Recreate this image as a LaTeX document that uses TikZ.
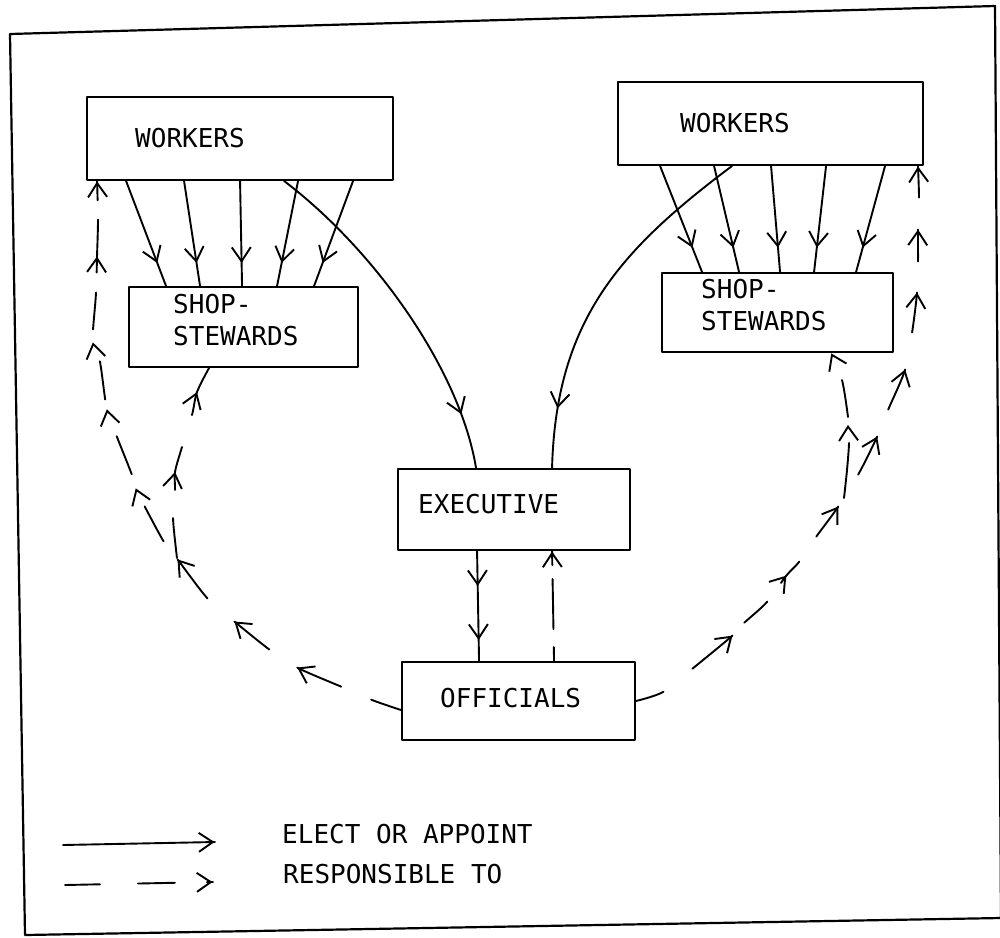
\documentclass[tikz,border=0pt]{standalone}
\usepackage{fontspec}
\newfontfamily\plotfont{DejaVu Sans Mono}
\usetikzlibrary{arrows.meta,decorations.markings}
\tikzset{
  barb/.tip={Straight Barb[length=14pt,width=19pt]},
  ln/.style={line width=1.9pt, line cap=round, line join=round},
  box/.style={draw, ln, rectangle, inner sep=0pt},
  txt/.style={font=\plotfont\fontsize{26}{32}\selectfont, inner sep=0pt, anchor=base west},
  hd/.style={postaction={solid, decorate, decoration={markings, mark=at position #1 with {\arrow{barb}}}}},
  elect/.style={ln},
  resp/.style={ln},
}
\begin{document}
\begin{tikzpicture}[x=1pt, y=-1pt]
\useasboundingbox (0,0) rectangle (1000,937);
% frame
\draw[line width=2.2pt, line join=round] (10,34) -- (995,6) -- (1001,918) -- (25,935) -- cycle;

% boxes
\node[box, minimum width=306pt, minimum height=83pt] (lw) at (240,138.5) {};
\node[box, minimum width=305pt, minimum height=83pt] (rw) at (770.5,123.5) {};
\node[box, minimum width=229pt, minimum height=80pt] (ls) at (243.5,327) {};
\node[box, minimum width=231pt, minimum height=79pt] (rs) at (777.5,312.5) {};
\node[box, minimum width=232pt, minimum height=81pt] (ex) at (514,509.5) {};
\node[box, minimum width=233pt, minimum height=78pt] (of) at (518.5,701) {};

% texts
\node[txt] (lwt) at (135,147) {WORKERS};
\node[txt] (rwt) at (680,132) {WORKERS};
\node[txt] (lst1) at (173,313) {SHOP-};
\node[txt] (lst2) at (173,345) {STEWARDS};
\node[txt] (rst1) at (701,298) {SHOP-};
\node[txt] (rst2) at (701,330) {STEWARDS};
\node[txt] (ext) at (418,513) {EXECUTIVE};
\node[txt] (oft) at (440,707) {OFFICIALS};
\node[txt] (lg1) at (282,843) {ELECT OR APPOINT};
\node[txt] (lg2) at (283,883) {RESPONSIBLE TO};

% elect: left workers -> shop stewards
\draw[elect, hd=0.78] ([xshift=40pt]lw.south west) -- ([xshift=38pt]ls.north west);
\draw[elect, hd=0.78] ([xshift=98pt]lw.south west) -- ([xshift=72pt]ls.north west);
\draw[elect, hd=0.78] ([xshift=154pt]lw.south west) -- ([xshift=114pt]ls.north west);
\draw[elect, hd=0.78] ([xshift=212pt]lw.south west) -- ([xshift=149pt]ls.north west);
\draw[elect, hd=0.78] ([xshift=267pt]lw.south west) -- ([xshift=186pt]ls.north west);
% elect: right workers -> shop stewards
\draw[elect, hd=0.77] ([xshift=43pt]rw.south west) -- ([xshift=41pt]rs.north west);
\draw[elect, hd=0.77] ([xshift=97pt]rw.south west) -- ([xshift=78pt]rs.north west);
\draw[elect, hd=0.77] ([xshift=154pt]rw.south west) -- ([xshift=119pt]rs.north west);
\draw[elect, hd=0.77] ([xshift=209pt]rw.south west) -- ([xshift=153pt]rs.north west);
\draw[elect, hd=0.77] ([xshift=268pt]rw.south west) -- ([xshift=195pt]rs.north west);
% elect: workers -> executive
\draw[elect, hd=-56pt] ([xshift=198pt]lw.south west) .. controls (375,250) and (460,370) .. ([xshift=79pt]ex.north west);
\draw[elect, hd=-60pt] ([xshift=115pt]rw.south west) .. controls (620,250) and (556,320) .. ([xshift=155pt]ex.north west);
% elect: executive -> officials
\draw[elect, hd/.list={35pt,89pt}] ([xshift=80pt]ex.south west) -- ([xshift=78pt]of.north west);

% responsible: officials -> executive
\draw[resp, dash pattern=on 14pt off 18pt on 50pt off 14pt on 30pt, hd=-0.5pt] ([xshift=153pt]of.north west) -- ([xshift=155pt]ex.south west);

% responsible: officials -> left workers (outer)
\draw[resp, dash pattern=on 31.6pt off 32.7pt on 47.9pt off 33.3pt on 44.8pt off 35.5pt on 49.2pt off 22.8pt on 39.8pt off 34.7pt on 40.9pt off 38.8pt on 38.5pt off 33.2pt on 37.1pt off 20pt on 53pt off 19.2pt on 40pt,
  hd/.list={112.2pt,190.3pt,275pt,357.7pt,442pt,510.7pt,596.8pt,-0.5pt}]
  plot[smooth, tension=0.5] coordinates {([yshift=-9pt]of.west) (372,700) (342,687) (298,668) (270,650) (235,622) (208,599) (178,560) (164,542) (145,507) (136,489) (132,475) (117,437) (107,410) (100,362) (93,343) (93,330) (96,293) (97,257) (98,220) ([xshift=11pt]lw.south west)};
% responsible: branch to left shop stewards
\coordinate (lj) at (177,558);
\draw[resp, dash pattern=on 40.2pt off 28.1pt on 44pt off 33.5pt on 80pt, hd/.list={86.3pt,169.3pt}]
  plot[smooth, tension=0.5] coordinates {(lj) (173,518) (175,490) (175,472) (182,447) (192,415) (197,392) ([xshift=81pt]ls.south west)};

% responsible: officials -> right workers (outer)
\draw[resp, dash pattern=on 29.1pt off 37pt on 51.9pt off 17.7pt on 31.1pt off 23.2pt on 28.1pt off 30.3pt on 37.2pt off 37.7pt on 42.5pt off 29.2pt on 43.5pt off 37.7pt on 40.3pt off 31pt on 32pt off 32pt on 40pt,
  hd/.list={118pt,199pt,285.6pt,365.8pt,438.5pt,516.5pt,579.5pt,-0.5pt}]
  plot[smooth, tension=0.5] coordinates {(of.east) (663,692) (692,669) (732,636) (744,623) (767,602) (786,576) (799,562) (816,537) (838,507) (858,475) (877,437) (888,410) (905,370) (912,333) (917,293) (918,262) (918,230) (919,198) ([xshift=-6pt]rw.south east)};
% responsible: branch to right shop stewards
\coordinate (rj) at (844,498);
\draw[resp, dash pattern=on 55.3pt off 26pt on 37.5pt off 60pt, hd/.list={73.3pt,-0.5pt}]
  plot[smooth, tension=0.5] coordinates {(rj) (847,470) (849,443) (848,425) (848,417) (842,380) ([xshift=170pt]rs.south west)};

% legend
\coordinate (la1) at (63,845);
\coordinate (la2) at (215,842);
\coordinate (lb1) at (65,885);
\coordinate (lb2) at (213,882);
\draw[elect, hd=-0.5pt] (la1) -- (la2);
\draw[resp, dash pattern=on 35pt off 38pt on 37pt off 32pt on 20pt, hd=-0.5pt] (lb1) -- (lb2);
\end{tikzpicture}
\end{document}
